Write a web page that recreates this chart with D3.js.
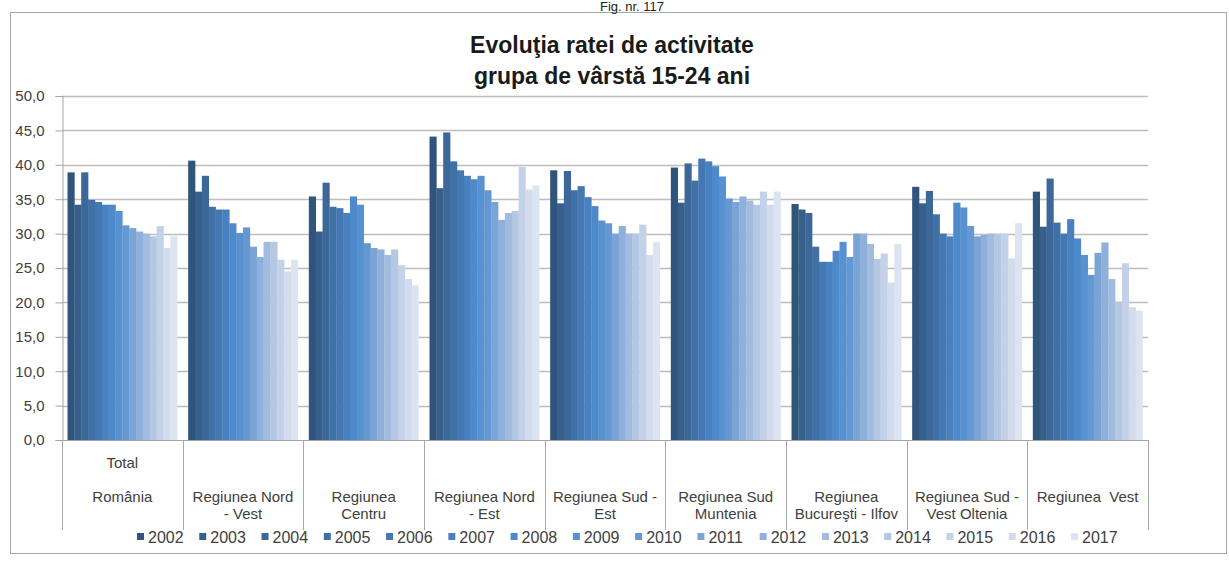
<!DOCTYPE html>
<html><head><meta charset="utf-8">
<script src="https://cdn.jsdelivr.net/npm/d3@7"></script>
<style>
body{margin:0;background:#fff}
svg{display:block}
text{font-family:"Liberation Sans",Arial,sans-serif}
tspan{white-space:pre}
</style>
</head><body>
<svg id="chart" width="1229" height="562"></svg>
<script>
// ---- data ----
const years = ["2002","2003","2004","2005","2006","2007","2008","2009","2010","2011","2012","2013","2014","2015","2016","2017"];
const categories = ["Total România","Regiunea Nord - Vest","Regiunea Centru","Regiunea Nord - Est","Regiunea Sud - Est","Regiunea Sud Muntenia","Regiunea Bucureşti - Ilfov","Regiunea Sud - Vest Oltenia","Regiunea  Vest"];
const categoryLabelLines = [
  ["Total","","România"],
  ["","","Regiunea Nord","- Vest"],
  ["","","Regiunea","Centru"],
  ["","","Regiunea Nord","- Est"],
  ["","","Regiunea Sud -","Est"],
  ["","","Regiunea Sud","Muntenia"],
  ["","","Regiunea","Bucureşti - Ilfov"],
  ["","","Regiunea Sud -","Vest Oltenia"],
  ["","","Regiunea  Vest"]
];
const totalRomania   = [38.9,34.2,38.9,34.9,34.6,34.2,34.2,33.3,31.2,30.8,30.3,30.0,29.6,31.1,27.9,29.6];
const nordVest       = [40.6,36.1,38.4,33.9,33.5,33.5,31.5,30.1,30.9,28.1,26.6,28.8,28.8,26.2,24.5,26.2];
const centru         = [35.4,30.3,37.4,33.9,33.7,33.0,35.4,34.2,28.6,27.9,27.7,26.9,27.7,25.4,23.4,22.5];
const nordEst        = [44.1,36.6,44.7,40.5,39.2,38.4,37.9,38.4,36.3,34.6,32.0,33.0,33.3,39.7,36.4,37.0];
const sudEst         = [39.2,34.4,39.1,36.3,36.9,35.3,34.0,31.9,31.5,30.0,31.1,30.0,30.0,31.3,26.9,28.8];
const sudMuntenia    = [39.6,34.5,40.2,37.7,40.9,40.5,39.8,38.3,35.1,34.6,35.4,34.8,34.2,36.1,34.2,36.1];
const bucurestiIlfov = [34.3,33.5,33.0,28.1,25.9,25.9,27.5,28.8,26.6,30.0,30.0,28.5,26.3,27.1,22.9,28.5];
const sudVestOltenia = [36.8,34.4,36.2,32.8,30.0,29.6,34.5,33.8,31.1,29.6,29.8,30.0,30.0,30.0,26.4,31.5];
const vest           = [36.1,31.0,38.0,31.6,30.0,32.1,29.3,26.9,24.0,27.2,28.7,23.4,20.1,25.7,19.3,18.8];
const regionValues = [totalRomania,nordVest,centru,nordEst,sudEst,sudMuntenia,bucurestiIlfov,sudVestOltenia,vest];
const yTicks = [0,5,10,15,20,25,30,35,40,45,50];
const yearColors = ["#30557d","#365f8b","#3b6899","#3f70a6","#4478b3","#4981c0","#4e8acb","#5891cf","#6598d2","#7aa3d6","#8fb0da","#a2bcdf","#b4c8e4","#c4d2e9","#d2dced","#dde4f1"];
const titleLines = ["Evoluţia ratei de activitate","grupa de vârstă 15-24 ani"];
const figLabel = "Fig. nr. 117";

// ---- layout ----
const svg = d3.select("#chart");
const plot = {left:62, right:1148, top:96, bottom:440};

svg.append("rect").attr("width",1229).attr("height",562).attr("fill","#fff");
svg.append("rect").attr("x",10.5).attr("y",12.5).attr("width",1216).attr("height",541)
  .attr("fill","#fff").attr("stroke","#a6a6a6").attr("stroke-width",1);

svg.append("text").attr("x",632).attr("y",11).attr("text-anchor","middle")
  .attr("font-size",13).attr("fill","#222").text(figLabel);

svg.selectAll("text.title").data(titleLines).enter().append("text")
  .attr("class","title").attr("x",612).attr("y",(d,i)=>53+i*31)
  .attr("text-anchor","middle").attr("font-size",23).attr("font-weight","bold")
  .attr("fill","#1a1a1a").text(d=>d);

const y = d3.scaleLinear().domain([0,50]).range([plot.bottom,plot.top]);
const x0 = d3.scaleBand().domain(categories).range([plot.left,plot.right]).padding(0);
const x1 = d3.scaleBand().domain(years).range([5.5,x0.bandwidth()-5.5]).padding(0);
const color = d3.scaleOrdinal().domain(years).range(yearColors);

// gridlines
svg.append("g").selectAll("line").data(yTicks.filter(d=>d>0)).enter().append("line")
  .attr("x1",plot.left).attr("x2",plot.right)
  .attr("y1",d=>Math.round(y(d))+0.5).attr("y2",d=>Math.round(y(d))+0.5)
  .attr("stroke","#bdbdbd").attr("stroke-width",1.5);

// y axis
const yAxis = svg.append("g").attr("transform",`translate(${plot.left+0.5},0)`)
  .call(d3.axisLeft(y).tickValues(yTicks).tickSize(7).tickPadding(11)
    .tickFormat(d=>d.toFixed(1).replace(".",",")));
yAxis.select(".domain").attr("stroke","#a6a6a6");
yAxis.selectAll(".tick line").attr("stroke","#a6a6a6");
yAxis.selectAll(".tick text").attr("font-size",15).attr("fill","#404040")
  .attr("font-family","Liberation Sans, Arial, sans-serif");

// bars
const rows = categories.map((c,i)=>({cat:c, vals:years.map((yr,j)=>({year:yr, value:regionValues[i][j]}))}));
const groups = svg.append("g").selectAll("g").data(rows).enter().append("g")
  .attr("transform",d=>`translate(${x0(d.cat)},0)`);
groups.selectAll("rect").data(d=>d.vals).enter().append("rect")
  .attr("x",d=>x1(d.year)).attr("width",x1.bandwidth()+0.3)
  .attr("y",d=>y(d.value)).attr("height",d=>y(0)-y(d.value))
  .attr("fill",d=>color(d.year));

// x axis line
svg.append("line").attr("x1",plot.left).attr("x2",plot.right)
  .attr("y1",plot.bottom+0.5).attr("y2",plot.bottom+0.5).attr("stroke","#a6a6a6");

// category separators
const seps = categories.map(c=>x0(c)).concat([x0.range()[1]]);
svg.append("g").selectAll("line").data(seps).enter().append("line")
  .attr("x1",d=>Math.round(d)+0.5).attr("x2",d=>Math.round(d)+0.5)
  .attr("y1",plot.bottom).attr("y2",530).attr("stroke","#a6a6a6");

// category labels
const labG = svg.append("g").selectAll("text").data(categories).enter().append("text")
  .attr("text-anchor","middle").attr("font-size",15).attr("fill","#404040")
  .attr("transform",d=>`translate(${x0(d)+x0.bandwidth()/2},0)`);
labG.each(function(d,i){
  const t = d3.select(this);
  categoryLabelLines[i].forEach((ln,k)=>{
    if(ln) t.append("tspan").attr("x",0).attr("y",468+k*17).text(ln);
  });
});

// legend
const lx = d3.scaleLinear().domain([0,years.length-1]).range([137,1071]);
const leg = svg.append("g").selectAll("g").data(years).enter().append("g")
  .attr("transform",(d,i)=>`translate(${lx(i)},0)`);
leg.append("rect").attr("x",0).attr("y",533).attr("width",7).attr("height",7).attr("fill",d=>color(d));
leg.append("text").attr("x",11).attr("y",542.5).attr("font-size",16).attr("fill","#404040").text(d=>d);
</script>
</body></html>
